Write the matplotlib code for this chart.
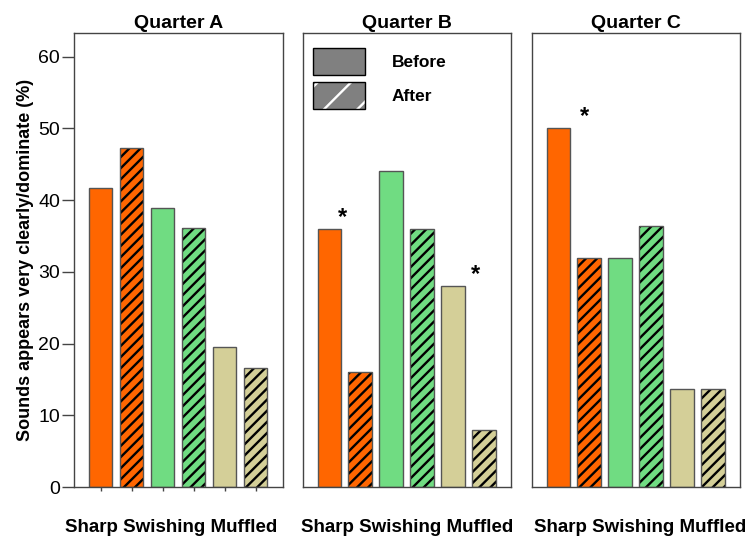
import matplotlib
matplotlib.use("Agg")
import matplotlib.pyplot as plt
from matplotlib.patches import Patch
from matplotlib.legend_handler import HandlerTuple
import numpy as np

plt.rcParams["font.family"] = ["Liberation Sans", "DejaVu Sans"]
plt.rcParams["hatch.linewidth"] = 1.7

# 每个季度 6 根柱：Sharp / Swishing / Muffled，各分 Before、After
QUARTERS = ["Quarter A", "Quarter B", "Quarter C"]
SOUNDS = ["Sharp", "Swishing", "Muffled"]
BEFORE = {
    "Quarter A": [41.7, 38.9, 19.5],
    "Quarter B": [36.0, 44.0, 28.0],
    "Quarter C": [50.0, 31.9, 13.6],
}
AFTER = {
    "Quarter A": [47.3, 36.1, 16.6],
    "Quarter B": [16.1, 36.0, 8.0],
    "Quarter C": [31.9, 36.4, 13.6],
}
# 显著性星号：(季度, 声音序号, 相对 Before 柱的横向偏移)
STARS = [("Quarter B", 0, 0.44), ("Quarter B", 2, 0.72), ("Quarter C", 0, 0.84)]

Y_TICKS = [0, 10, 20, 30, 40, 50, 60]
SOUND_COLORS = ["#FF6600", "#70DC82", "#D4CF98"]
EDGE = "#555555"
SPINE = "#444444"
BAR_W = 0.77

fig = plt.figure(figsize=(7.5, 5.38), dpi=100)
fig.patch.set_facecolor("white")

W, H = 750.0, 538.0
lefts = [74, 303, 532]
widths = [209, 208, 208]
bottom_px, top_px = 487, 33
# x 轴标题的水平中心（轴坐标）
xlabel_x = [0.464, 0.5, 0.519]

axes = []
for i, q in enumerate(QUARTERS):
    ax = fig.add_axes([lefts[i] / W, 1 - bottom_px / H, widths[i] / W,
                       (bottom_px - top_px) / H])
    axes.append(ax)
    before = np.array(BEFORE[q])
    after = np.array(AFTER[q])
    x_before = np.arange(len(SOUNDS)) * 2
    x_after = x_before + 1

    ax.bar(x_before, before, width=BAR_W, color=SOUND_COLORS,
           edgecolor=EDGE, linewidth=1.0, zorder=2)
    # 斜线柱：先画黑色斜线（不描边），再叠一层灰色外框
    ax.bar(x_after, after, width=BAR_W, color=SOUND_COLORS,
           edgecolor="black", hatch="///", linewidth=0, zorder=2)
    ax.bar(x_after, after, width=BAR_W, color="none",
           edgecolor=EDGE, linewidth=1.0, zorder=3)

    for sq, k, dx in STARS:
        if sq == q:
            ax.text(x_before[k] + dx, before[k] + 1.6, "*", ha="center",
                    va="center", fontsize=17, fontweight="bold", zorder=4)

    ax.set_xlim(-0.855, 5.885)
    ax.set_ylim(0, 63.3)
    ax.set_title(q, fontsize=14, fontweight="bold", pad=3.5)
    for side in ax.spines.values():
        side.set_color(SPINE)
        side.set_linewidth(1.0)

    ax.set_xlabel("Sharp Swishing Muffled", fontsize=13.5, fontweight="bold")
    ax.xaxis.set_label_coords(xlabel_x[i], -0.071)

    if i == 0:
        ax.set_yticks(Y_TICKS)
        ax.tick_params(axis="y", length=9, width=1.0, color=SPINE,
                       labelsize=14, pad=1)
        ax.set_xticks(np.arange(6))
        ax.tick_params(axis="x", length=3, width=1.0, color=SPINE,
                       labelbottom=False)
        ax.set_ylabel("Sounds appears very clearly/dominate (%)",
                      fontsize=13, fontweight="bold", labelpad=3)
    else:
        ax.set_yticks([])
        ax.set_xticks([])

# 图例放在 Quarter B 内
handles = [
    Patch(facecolor="#808080", edgecolor="black", linewidth=1.0),
    (Patch(facecolor="#808080", edgecolor="white", hatch="/", linewidth=0),
     Patch(facecolor="none", edgecolor="black", linewidth=1.0)),
]
axes[1].legend(handles, ["Before", "After"],
               handler_map={tuple: HandlerTuple(ndivide=1, pad=0)},
               loc="upper left", bbox_to_anchor=(10 / 208, 1 - 15 / 454),
               frameon=False, borderpad=0, borderaxespad=0,
               handlelength=3.0, handleheight=2.0, handletextpad=1.55,
               labelspacing=0.42, prop={"weight": "bold", "size": 12.5})

fig.savefig("out.png", dpi=100, facecolor="white")
